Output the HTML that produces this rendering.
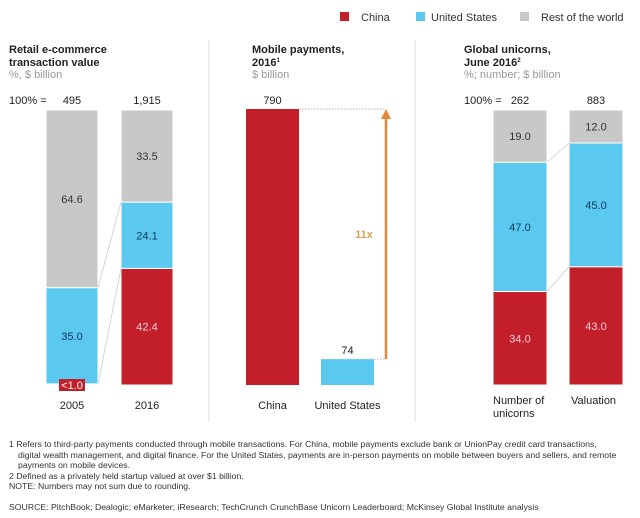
<!DOCTYPE html>
<html><head><meta charset="utf-8">
<style>
html,body{margin:0;padding:0;background:#fff;}
svg{display:block;font-family:"Liberation Sans",Arial,sans-serif;}
</style></head>
<body>
<svg id="chart" width="640" height="518" viewBox="0 0 640 518">
  <g>
    <rect x="340" y="12" width="9" height="9" fill="#c21f2b"/>
    <text x="361" y="21" font-size="11" fill="#333">China</text>
    <rect x="416" y="12" width="9" height="9" fill="#5bc8f0"/>
    <text x="431" y="21" font-size="11" fill="#333">United States</text>
    <rect x="520" y="12" width="9" height="9" fill="#c8c8c8"/>
    <text x="541" y="21" font-size="11" fill="#333">Rest of the world</text>
  </g>
  <line x1="209" y1="40" x2="209" y2="422" stroke="#ddd"/>
  <line x1="415" y1="40" x2="415" y2="422" stroke="#ddd"/>

  <g font-size="11">
    <text x="9" y="53" font-weight="bold" fill="#222">Retail e-commerce</text>
    <text x="9" y="66" font-weight="bold" fill="#222">transaction value</text>
    <text x="9" y="78" fill="#999">%, $ billion</text>
    <text x="9" y="104" fill="#222">100% =</text>

    <text x="252" y="53" font-weight="bold" fill="#222">Mobile payments,</text>
    <text x="252" y="66" font-weight="bold" fill="#222">2016<tspan font-size="6" dy="-4">1</tspan></text>
    <text x="252" y="78" fill="#999">$ billion</text>

    <text x="464" y="53" font-weight="bold" fill="#222">Global unicorns,</text>
    <text x="464" y="66" font-weight="bold" fill="#222">June 2016<tspan font-size="6" dy="-4">2</tspan></text>
    <text x="464" y="78" fill="#999">%; number; $ billion</text>
    <text x="464" y="104" fill="#222">100% =</text>
  </g>

  <g id="marks"></g>

  <g font-size="8.7" fill="#333">
    <text x="9" y="447">1  Refers to third-party payments conducted through mobile transactions. For China, mobile payments exclude bank or UnionPay credit card transactions,</text>
    <text x="18" y="458">digital wealth management, and digital finance. For the United States, payments are in-person payments on mobile between buyers and sellers, and remote</text>
    <text x="18" y="468">payments on mobile devices.</text>
    <text x="9" y="479">2  Defined as a privately held startup valued at over $1 billion.</text>
    <text x="9" y="489">NOTE: Numbers may not sum due to rounding.</text>
    <text x="9" y="510">SOURCE:  PitchBook; Dealogic; eMarketer; iResearch; TechCrunch CrunchBase Unicorn Leaderboard; McKinsey Global Institute analysis</text>
  </g>
</svg>
<script>
// Retail e-commerce data
const retailCategories = ["2005", "2016"];
const retailTotals = ["495", "1,915"];
const retailChina = [0.4, 42.4];
const retailUS = [35.0, 24.1];
const retailRest = [64.6, 33.5];
const retailLabels = [["<1.0","35.0","64.6"],["42.4","24.1","33.5"]];

// Mobile payments data
const mobileCategories = ["China", "United States"];
const mobileValues = [790, 74];
const mobileMultiplier = "11x";

// Unicorns data
const unicornCategories = [["Number of","unicorns"], ["Valuation"]];
const unicornTotals = ["262", "883"];
const unicornChina = [34.0, 43.0];
const unicornUS = [47.0, 45.0];
const unicornRest = [19.0, 12.0];

const NS = "http://www.w3.org/2000/svg";
const marks = document.getElementById("marks");
const RED="#c21f2b", BLUE="#5bc8f0", GRAY="#c8c8c8";
const TOP=110, BOTTOM=385;
function mk(tag, attrs, parent){
  const e=document.createElementNS(NS,tag);
  for(const k in attrs) e.setAttribute(k,attrs[k]);
  (parent||marks).appendChild(e); return e;
}
function txt(x,y,s,opts){
  const t=mk("text",Object.assign({x:x,y:y,"font-size":11,"text-anchor":"middle",fill:"#222"},opts||{}));
  t.textContent=s; return t;
}
function pY(p){ return BOTTOM - p/100*(BOTTOM-TOP); }

function stacked(xs, w, china, us, rest, labels, prefix){
  const tops=[];
  for(let i=0;i<xs.length;i++){
    const tot=china[i]+us[i]+rest[i];
    const sc=100/tot;
    const c0=BOTTOM, c1=pY(china[i]*sc), u1=pY((china[i]+us[i])*sc), r1=pY(100);
    tops.push([c1,u1]);
    const segs=[[c1,c0,RED,"china"],[u1,c1,BLUE,"us"],[r1,u1,GRAY,"rest"]];
    segs.forEach((s,j)=>{
      const r=mk("rect",{x:xs[i],y:s[0],width:w,height:Math.max(0,s[1]-s[0]),fill:s[2],stroke:"#fff","stroke-width":1});
      
      
    });
    const vals=[china[i],us[i],rest[i]];
    const lbl=labels?labels[i]:vals.map(v=>v.toFixed(1));
    segs.forEach((s,j)=>{
      const h=s[1]-s[0];
      if(h<8){
        const b=mk("rect",{x:xs[i]+w/2-13,y:BOTTOM-6,width:26,height:12,fill:RED});
        
        
        const t=txt(xs[i]+w/2,BOTTOM+4,lbl[j],{fill:"#fff"});
        
        
      } else {
        const t=txt(xs[i]+w/2,(s[0]+s[1])/2+4,lbl[j],{fill:j===0?"#fcd":(j===1?"#0b3a5a":"#333")});
        
        
      }
    });
  }
  for(let k=0;k<2;k++){
    const l=mk("line",{x1:xs[0]+w,y1:tops[0][k],x2:xs[1],y2:tops[1][k],stroke:"#ccc","stroke-width":0.8});
    
    
  }
}

// Retail
const rx=[46,121], rw=52;
stacked(rx, rw, retailChina, retailUS, retailRest, retailLabels, "retail");
retailCategories.forEach((c,i)=>{
  const t=txt(rx[i]+rw/2,409,c);  
  const u=txt(rx[i]+rw/2,104,retailTotals[i]);  
});

// Unicorns
const ux=[493,569], uw=54;
stacked(ux, uw, unicornChina, unicornUS, unicornRest, null, "unicorn");
unicornCategories.forEach((c,i)=>{
  c.forEach((line,j)=>{
    const t=txt(ux[i]+uw/2,404+j*13,line,{"text-anchor":"start",x:ux[i]+(i===0?0:2)});
     
  });
  const u=txt(ux[i]+uw/2,104,unicornTotals[i]);  
});

// Mobile payments
const mx=[246,321], mw=53;
const mMax=790;
function mY(v){ return BOTTOM - v/mMax*(BOTTOM-109); }
mobileValues.forEach((v,i)=>{
  const r=mk("rect",{x:mx[i],y:mY(v),width:mw,height:BOTTOM-mY(v),fill:i===0?RED:BLUE});
  
  
  const t=txt(mx[i]+mw/2,mY(v)-5,String(v));  
  const c=txt(mx[i]+mw/2,409,mobileCategories[i]);  
});
const ax=386;
const d1=mk("line",{x1:mx[0]+mw,y1:mY(mobileValues[0]),x2:ax,y2:mY(mobileValues[0]),stroke:"#999","stroke-dasharray":"1.5,1.5","stroke-width":0.8});
 
const d2=mk("line",{x1:mx[1]+mw,y1:mY(mobileValues[1]),x2:ax,y2:mY(mobileValues[1]),stroke:"#999","stroke-dasharray":"1.5,1.5","stroke-width":0.8});
 
const ar=mk("line",{x1:ax,y1:mY(mobileValues[1]),x2:ax,y2:mY(mobileValues[0])+8,stroke:"#e0873a","stroke-width":2.5});
 
const ah=mk("polygon",{points:(ax-5)+","+(mY(mobileValues[0])+10)+" "+(ax+5)+","+(mY(mobileValues[0])+10)+" "+ax+","+mY(mobileValues[0]),fill:"#e0873a"});
 
const mt=txt(364,238,mobileMultiplier,{fill:"#d4a05a","font-weight":"bold"});
 
</script>
</body></html>
